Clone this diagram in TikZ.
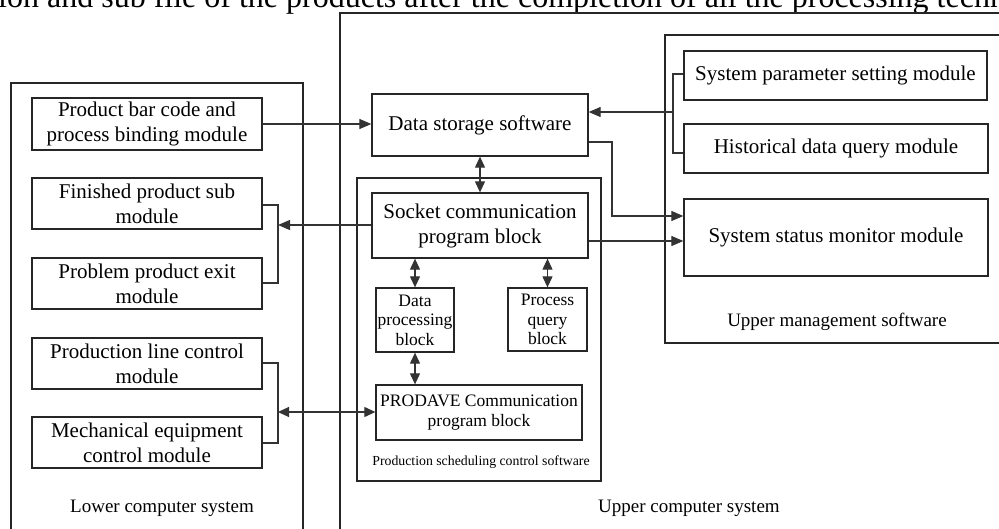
\documentclass[tikz,border=0pt]{standalone}
\usepackage{fontspec}
\setmainfont{Liberation Serif}
\usetikzlibrary{arrows.meta}
\begin{document}
\begin{tikzpicture}[x=1pt,y=-1pt,
  box/.style={draw=black!85, line width=1.3pt, inner sep=0pt, align=center, font=\fontsize{21}{25}\selectfont},
  smallbox/.style={box, font=\fontsize{17.5}{19.5}\selectfont},
  frame/.style={draw=black!85, line width=1.3pt, inner sep=0pt},
  conn/.style={draw=black!80, line width=1.1pt},
  tip/.style={-{Triangle[length=12pt,width=10pt]}},
  dtip/.style={{Triangle[length=11pt,width=10pt]}-{Triangle[length=11pt,width=10pt]}},
  lbl/.style={inner sep=0pt, font=\fontsize{19}{22}\selectfont}
]
\useasboundingbox (0,0) rectangle (999,528);
\clip (0,0) rectangle (999,528);

% top line of surrounding text (cropped)
\node[anchor=base west, inner sep=0pt, font=\fontsize{32}{36}\selectfont] (toptext) at (-2,7) {ion and sub file of the products after the completion of all the processing techn};

% containers
\node[frame, minimum width=292pt, minimum height=457pt] (lower) at (157,311.5) {};
\node[frame, minimum width=670pt, minimum height=527pt] (upper) at (675,276.5) {};
\node[frame, minimum width=340pt, minimum height=308pt] (mgmt) at (835,189) {};
\node[frame, minimum width=244pt, minimum height=303pt] (sched) at (479,329.5) {};

% lower computer modules
\node[box, minimum width=230pt, minimum height=52pt] (barcode) at (147,124) {Product bar code and\\process binding module};
\node[box, minimum width=230pt, minimum height=51pt] (finished) at (147,203.5) {Finished product sub\\module};
\node[box, minimum width=230pt, minimum height=51pt] (problem) at (147,283.5) {Problem product exit\\module};
\node[box, minimum width=230pt, minimum height=51pt] (prodline) at (147,363.5) {Production line control\\module};
\node[box, minimum width=230pt, minimum height=51pt] (mech) at (147,442.5) {Mechanical equipment\\control module};

% upper computer modules
\node[box, minimum width=216pt, minimum height=62pt] (datastore) at (480,125) {Data storage software};
\node[box, minimum width=216pt, minimum height=65pt] (socket) at (480,225.5) {Socket communication\\program block};
\node[smallbox, minimum width=78pt, minimum height=64pt] (dataproc) at (415,320) {Data\\processing\\block};
\node[smallbox, minimum width=79pt, minimum height=63pt] (procquery) at (547.5,319.5) {Process\\query\\block};
\node[smallbox, minimum width=206pt, minimum height=55pt] (prodave) at (479,412.5) {PRODAVE Communication\\program block};

% upper management modules
\node[box, minimum width=303pt, minimum height=49pt] (sysparam) at (835.5,75.5) {System parameter setting module};
\node[box, minimum width=304pt, minimum height=49pt] (hist) at (836,148.5) {Historical data query module};
\node[box, minimum width=304pt, minimum height=77pt] (status) at (836,237.5) {System status monitor module};

% labels
\node[lbl, anchor=west] (lowerlbl) at (70,508) {Lower computer system};
\node[lbl, anchor=west] (upperlbl) at (598,508) {Upper computer system};
\node[lbl] (mgmtlbl) at (837,322) {Upper management software};
\node[inner sep=0pt, font=\fontsize{13.8}{16}\selectfont] (schedlbl) at (481,462) {Production scheduling control software};

% connector points
\coordinate (b1) at (673,74);
\coordinate (b2) at (673,153);
\coordinate (bm) at (673,112);
\coordinate (c1) at (612,142);
\coordinate (c2) at (612,216);
\coordinate (d1) at (588,241);
\coordinate (e1) at (278,205);
\coordinate (e2) at (278,283);
\coordinate (em) at (278,225);
\coordinate (f1) at (278,363);
\coordinate (f2) at (278,443);
\coordinate (fm) at (278,412);

% connectors
\draw[conn,tip] (barcode.east) -- (barcode.east -| datastore.west);
\draw[conn] (sysparam.west |- b1) -- (b1) -- (b2) -- (hist.west |- b2);
\draw[conn,tip] (bm) -- (datastore.east |- bm);
\draw[conn,tip] (datastore.east |- c1) -- (c1) -- (c2) -- (status.west |- c2);
\draw[conn,tip] (socket.east |- d1) -- (status.west |- d1);
\draw[conn,dtip] (datastore.south) -- (socket.north);
\draw[conn] (finished.east |- e1) -- (e1) -- (e2) -- (problem.east |- e2);
\draw[conn,tip] (socket.west |- em) -- (em);
\draw[conn] (prodline.east |- f1) -- (f1) -- (f2) -- (mech.east |- f2);
\draw[conn,dtip] (fm) -- (prodave.west |- fm);
\draw[conn,dtip] (socket.south -| dataproc.north) -- (dataproc.north);
\draw[conn,dtip] (socket.south -| procquery.north) -- (procquery.north);
\draw[conn,dtip] (dataproc.south) -- (dataproc.south |- prodave.north);
\end{tikzpicture}
\end{document}
